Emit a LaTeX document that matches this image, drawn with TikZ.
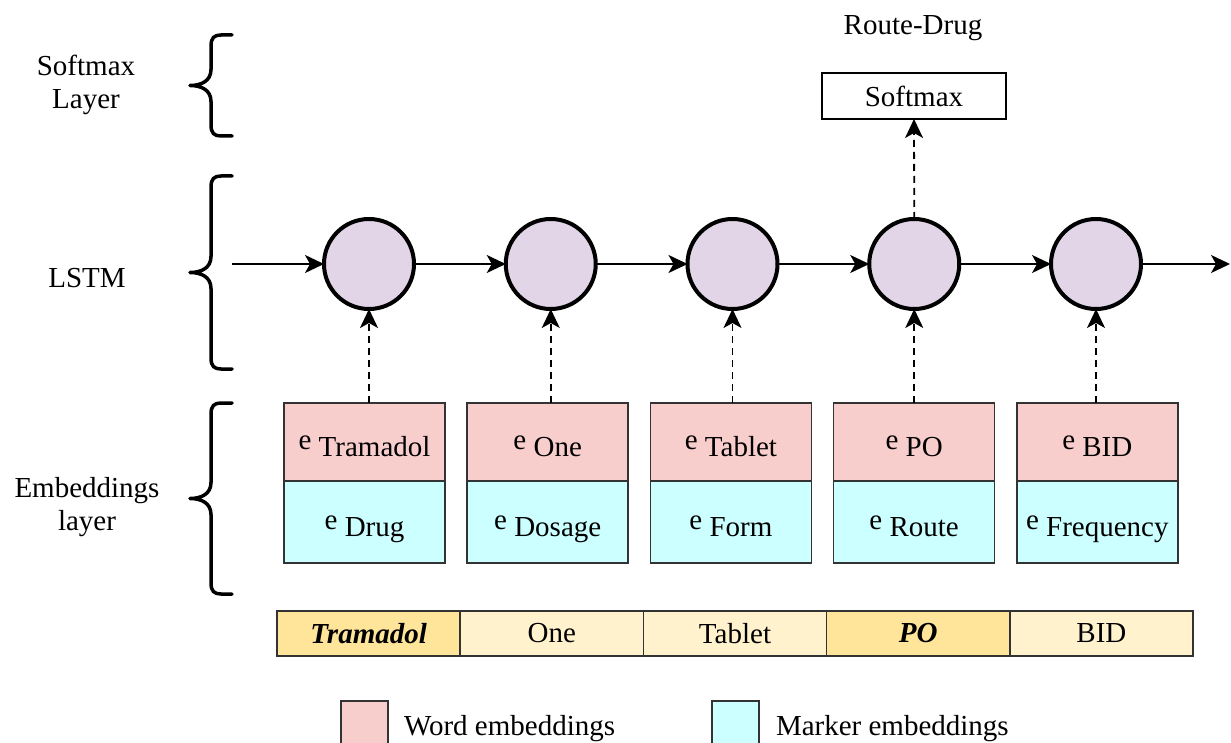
\documentclass[tikz,border=0pt]{standalone}
\usepackage{fontspec}
\setmainfont{Liberation Serif}
\usetikzlibrary{arrows.meta}

\definecolor{wordpink}{HTML}{F8CECC}
\definecolor{markercyan}{HTML}{CCFFFF}
\definecolor{cellpurple}{HTML}{E1D5E7}
\definecolor{tokenlight}{HTML}{FFF2CC}
\definecolor{tokenhigh}{HTML}{FFE599}

% an embedding label: the letter e followed by a lowered name,
% with its baseline a little below the centre of the box
\newcommand{\embl}[1]{\raisebox{-7pt}[0pt][0pt]{e \raisebox{-7pt}{#1}}}

% a curly brace opening to the right: x of the open ends, top y, bottom y
\newcommand{\layerbr}[3]{%
  \pgfmathsetmacro{\bmid}{(#2+#3)/2}%
  \draw[bracestroke]
    (#1,#2) -- (#1-11,#2)
    .. controls (#1-18,#2) and (#1-21,#2+3) .. (#1-21,#2+11)
    -- (#1-21,\bmid-16)
    .. controls (#1-21,\bmid-5) and (#1-30,\bmid) .. (#1-42,\bmid)
    .. controls (#1-30,\bmid) and (#1-21,\bmid+5) .. (#1-21,\bmid+16)
    -- (#1-21,#3-11)
    .. controls (#1-21,#3-3) and (#1-18,#3) .. (#1-11,#3)
    -- (#1,#3);}

\begin{document}
\begin{tikzpicture}[x=1pt,y=-1pt,
  font=\fontsize{29}{33}\selectfont,
  every node/.style={inner sep=0pt, outer sep=0pt},
  lstm/.style={circle, draw, line width=4pt, fill=cellpurple, minimum size=90pt},
  wordbox/.style={draw=black!80, line width=1.5pt, fill=wordpink, minimum width=161pt, minimum height=78pt},
  markbox/.style={draw=black!80, line width=1.5pt, fill=markercyan, minimum width=161pt, minimum height=82pt},
  tokcell/.style={draw=black!80, line width=1.5pt, fill=tokenlight, minimum width=183.2pt, minimum height=45pt},
  tokhigh/.style={tokcell, fill=tokenhigh, font=\fontsize{29}{33}\selectfont\bfseries\itshape},
  legendbox/.style={draw=black!80, line width=1.5pt, minimum width=47pt, minimum height=50pt, anchor=north west},
  flow/.style={line width=1.6pt, -{Stealth[length=19pt,width=18pt,inset=5pt]}},
  feed/.style={line width=1.8pt, dash pattern=on 7pt off 5pt, -{Stealth[length=19pt,width=18pt,inset=5pt]}},
  bracestroke/.style={line width=3.5pt, line cap=round, line join=round},
]
\useasboundingbox (0,0) rectangle (1231,743);
\clip (0,0) rectangle (1231,743);

% layer labels and braces
\node[align=center] (lblsoft) at (86,85) {Softmax\\Layer};
\node (lbllstm) at (87,278) {LSTM};
\node[align=center] (lblemb) at (87,507) {Embeddings\\layer};
\layerbr{232}{35}{136}
\layerbr{232}{176}{369}
\layerbr{232}{403}{594}

% LSTM cells
\foreach \i/\x in {1/369,2/550.75,3/732.5,4/914.25,5/1096}
  \node[lstm] (c\i) at (\x,264) {};

% embeddings: word part on top, marker part below
\node[wordbox] (w1) at (364.5,442) {\embl{Tramadol}};
\node[wordbox] (w2) at (547.7,442) {\embl{One}};
\node[wordbox] (w3) at (730.9,442) {\embl{Tablet}};
\node[wordbox] (w4) at (914.1,442) {\embl{PO}};
\node[wordbox] (w5) at (1097.3,442) {\embl{BID}};
\node[markbox] (m1) at (364.5,522) {\embl{Drug}};
\node[markbox] (m2) at (547.7,522) {\embl{Dosage}};
\node[markbox] (m3) at (730.9,522) {\embl{Form}};
\node[markbox] (m4) at (914.1,522) {\embl{Route}};
\node[markbox] (m5) at (1097.3,522) {\embl{Frequency}};

% input tokens
\node[tokhigh] (t1) at (368.6,633.5) {Tramadol};
\node[tokcell] (t2) at (551.8,633.5) {One};
\node[tokcell] (t3) at (735.0,633.5) {Tablet};
\node[tokhigh] (t4) at (918.2,633.5) {PO};
\node[tokcell] (t5) at (1101.4,633.5) {BID};

% softmax output
\node[draw, line width=1.8pt, minimum width=184pt, minimum height=46pt] (sm) at (914,96) {Softmax};
\node (rd) at (913,28) {Route-Drug};

% recurrent chain
\coordinate (in) at (232,264);
\coordinate (out) at (1230,264);
\draw[flow] (in) -- (c1.west);
\draw[flow] (c1.east) -- (c2.west);
\draw[flow] (c2.east) -- (c3.west);
\draw[flow] (c3.east) -- (c4.west);
\draw[flow] (c4.east) -- (c5.west);
\draw[flow] (c5.east) -- (out);

% embeddings feeding the cells, cell feeding softmax
\foreach \i in {1,...,5}
  \draw[feed] (c\i |- w\i.north) -- (c\i.south);
\draw[feed] (c4.north) -- (sm.south);

% legend
\node[legendbox, fill=wordpink] (lgw) at (341,701) {};
\node[anchor=base west] (lgwt) at (404,735) {Word embeddings};
\node[legendbox, fill=markercyan] (lgm) at (712,701) {};
\node[anchor=base west] (lgmt) at (776,735) {Marker embeddings};
\end{tikzpicture}
\end{document}
